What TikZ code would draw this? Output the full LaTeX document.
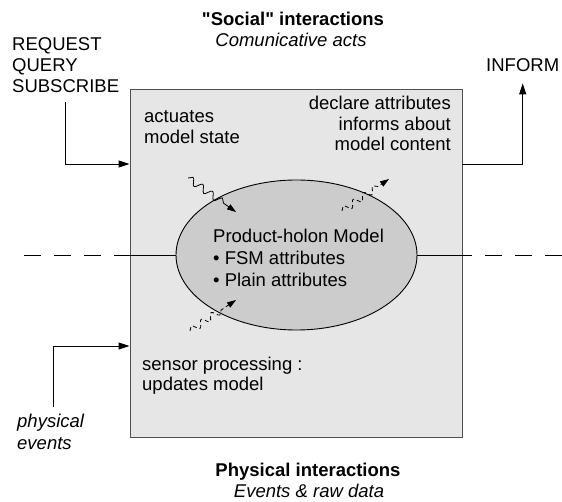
\documentclass[tikz,border=0pt]{standalone}
\usepackage{fontspec}
\setmainfont{Liberation Sans}[Ligatures=TeXOff]
\usetikzlibrary{arrows.meta,shapes.geometric,decorations.pathmorphing}
\definecolor{boxfill}{HTML}{E6E6E6}
\definecolor{ellfill}{HTML}{CCCCCC}
\definecolor{boxline}{HTML}{505050}
\begin{document}
\begin{tikzpicture}[x=1pt,y=-1pt,
  txt/.style={font=\fontsize{18.5}{21}\selectfont, inner sep=0pt},
  conn/.style={line width=0.9pt, draw=black},
  tip/.style={-{Triangle[length=11pt,width=7pt]}},
  smalltip/.style={-{Triangle[length=9pt,width=6pt]}},
  wave/.style={line width=0.8pt, decorate, decoration={snake, amplitude=3.5pt, segment length=12pt, post length=13pt}},
  dashline/.style={conn, dash pattern=on 17pt off 13pt},
]
\useasboundingbox (0,0) rectangle (562,502);
% main box
\node[draw=boxline, fill=boxfill, line width=0.9pt, minimum width=332pt, minimum height=348pt, inner sep=0pt] (box) at (296,263) {};
% axis line
\coordinate (dL) at (24,255);
\coordinate (dR) at (562,255);
\node[ellipse, draw=black, fill=ellfill, line width=0.9pt, minimum width=241pt, minimum height=150pt, inner sep=0pt] (model) at (296.5,255) {};
\draw[dashline] (dL) -- (box.west |- model.west);
\draw[conn] (box.west |- model.west) -- (model.west);
\draw[conn] (model.east) -- (box.east |- model.east);
\draw[dashline] (dR) -- (box.east |- model.east);
% texts
\node[txt, anchor=base, font=\fontsize{18.5}{21}\selectfont\bfseries] (social) at (293,26) {"Social" interactions};
\node[txt, anchor=base, font=\fontsize{18.5}{21}\selectfont\itshape] (comm) at (291,47) {Comunicative acts};
\node[txt, anchor=base west, align=left] (req) at (12,92.5) {REQUEST\\QUERY\\SUBSCRIBE};
\node[txt, anchor=base west] (inform) at (486,72) {INFORM};
\node[txt, anchor=base west, align=left] (act) at (144,144) {actuates\\model state};
\node[txt, anchor=base east, align=right, font=\fontsize{18.5}{20.5}\selectfont] (decl) at (451,151) {declare attributes\\informs about\hspace*{5pt}\\model content};
\node[txt, anchor=base west, align=left, font=\fontsize{18.5}{22}\selectfont] (mtext) at (213,286.7) {Product-holon Model\\• FSM attributes\\• Plain attributes};
\node[txt, anchor=base west, align=left, font=\fontsize{18.5}{20}\selectfont] (sens) at (142,390) {sensor processing :\\updates model};
\node[txt, anchor=base west, align=left, font=\fontsize{18.5}{22}\selectfont\itshape] (phys) at (17,449) {physical\\events};
\node[txt, anchor=base, font=\fontsize{18.5}{21}\selectfont\bfseries] (physint) at (308,476) {Physical interactions};
\node[txt, anchor=base, font=\fontsize{18.5}{21}\selectfont\itshape] (events) at (309,497) {Events \& raw data};
% connectors
\draw[conn, tip] ([yshift=-9.5pt]req.south) |- (box.west |- 0,164);
\draw[conn, tip] (box.east |- 0,164) -| ([yshift=-11pt]inform.south);
\draw[conn, tip] ([xshift=3pt,yshift=6.5pt]phys.north) |- (box.west |- 0,346);
% wavy arrows
\coordinate (w1s) at (188,178); \coordinate (w1e) at (236,212);
\coordinate (w2s) at (342,211); \coordinate (w2e) at (389,179);
\coordinate (w3s) at (190,331); \coordinate (w3e) at (236,300);
\draw[wave, smalltip] (w1s) -- (w1e);
\draw[wave, smalltip, dash pattern=on 4pt off 3pt] (w2s) -- (w2e);
\draw[wave, smalltip, dash pattern=on 4pt off 3pt] (w3s) -- (w3e);
\end{tikzpicture}
\end{document}
